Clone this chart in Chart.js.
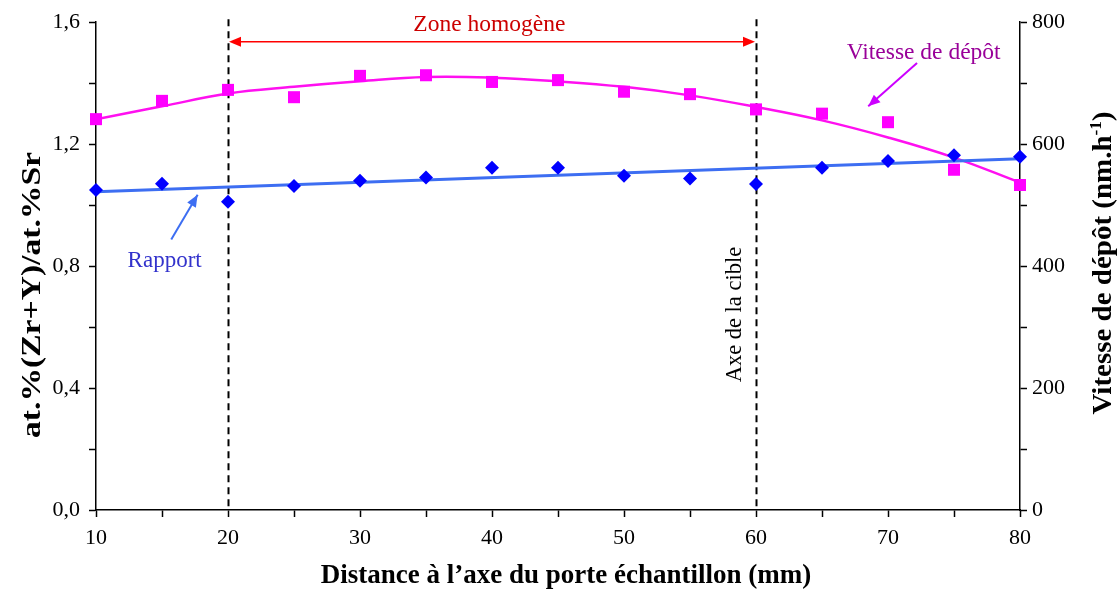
<!DOCTYPE html>
<html>
<head>
<meta charset="utf-8">
<script src="https://cdn.jsdelivr.net/npm/chart.js@4.4.1/dist/chart.umd.min.js"></script>
<style>
  html, body { margin: 0; padding: 0; background: #fff; }
  #wrap { width: 1118px; height: 595px; }
</style>
</head>
<body>
<div id="wrap"><canvas id="depotChart" width="1118" height="595"></canvas></div>
<script>
// distances (mm)
const distances = [10, 15, 20, 25, 30, 35, 40, 45, 50, 55, 60, 65, 70, 75, 80];
// at.%(Zr+Y)/at.%Sr
const rapport = [1.050, 1.070, 1.011, 1.063, 1.080, 1.091, 1.123, 1.123, 1.096, 1.087, 1.069, 1.123, 1.145, 1.164, 1.159];
// vitesse de depot (nm/h)
const vitesse = [641, 671, 689, 677, 712, 713, 702, 705, 686, 682, 657, 650, 636, 558, 533];
// trend lines
const rapportTrendX = [10, 80];
const rapportTrend = [1.044, 1.152];
const vitesseTrend = [641, 662, 683, 694, 703, 710, 709, 703, 694, 680, 661, 639, 611, 578, 537];

const xTicks = [10, 20, 30, 40, 50, 60, 70, 80];
const leftTicks = [0, 0.4, 0.8, 1.2, 1.6];
const rightTicks = [0, 200, 400, 600, 800];

const zoneStart = 20;
const zoneEnd = 60;

const serif = '"Liberation Serif", "DejaVu Serif", serif';

function toPoints(xv, yv) {
    return xv.map((x, i) => ({ x: x, y: yv[i] }));
}

function arrowHead(ctx, x1, y1, x2, y2, len, half) {
    const a = Math.atan2(y2 - y1, x2 - x1);
    ctx.beginPath();
    ctx.moveTo(x2, y2);
    ctx.lineTo(x2 - len * Math.cos(a) + half * Math.sin(a), y2 - len * Math.sin(a) - half * Math.cos(a));
    ctx.lineTo(x2 - len * Math.cos(a) - half * Math.sin(a), y2 - len * Math.sin(a) + half * Math.cos(a));
    ctx.closePath();
    ctx.fill();
}

function arrow(ctx, x1, y1, x2, y2, color, width) {
    ctx.strokeStyle = color;
    ctx.fillStyle = color;
    ctx.lineWidth = width;
    ctx.beginPath();
    ctx.moveTo(x1, y1);
    ctx.lineTo(x2, y2);
    ctx.stroke();
    arrowHead(ctx, x1, y1, x2, y2, 12, 5);
}

// rotated title stretched to the length it has in the picture
function verticalTitle(ctx, parts, cy, baseX, targetLen) {
    ctx.save();
    ctx.translate(baseX, cy);
    ctx.rotate(-Math.PI / 2);
    let total = 0;
    parts.forEach(p => { ctx.font = p.font; p.w = ctx.measureText(p.text).width; total += p.w; });
    ctx.scale(targetLen / total, 1);
    ctx.textAlign = 'left';
    ctx.textBaseline = 'alphabetic';
    let pos = -total / 2;
    parts.forEach(p => {
        ctx.font = p.font;
        ctx.fillText(p.text, pos, p.dy || 0);
        pos += p.w;
    });
    ctx.restore();
}

const annotations = {
    id: 'annotations',
    beforeDatasetsDraw(chart) {
        const { ctx, chartArea, scales } = chart;
        const x = scales.x;
        ctx.save();
        ctx.strokeStyle = '#000';
        ctx.lineWidth = 2;
        ctx.setLineDash([7, 5]);
        [zoneStart, zoneEnd].forEach(v => {
            const px = Math.round(x.getPixelForValue(v)) + 0.5;
            ctx.beginPath();
            ctx.moveTo(px, chartArea.top - 3);
            ctx.lineTo(px, chartArea.bottom);
            ctx.stroke();
        });
        ctx.restore();
    },
    afterDraw(chart) {
        const { ctx, scales } = chart;
        const x = scales.x, yl = scales.y, yr = scales.y2;
        ctx.save();

        // zone homogene
        const ax1 = x.getPixelForValue(zoneStart) + 1;
        const ax2 = x.getPixelForValue(zoneEnd) - 1;
        const ay = yl.getPixelForValue(1.536);
        ctx.strokeStyle = '#ff0000';
        ctx.fillStyle = '#ff0000';
        ctx.lineWidth = 1.5;
        ctx.beginPath();
        ctx.moveTo(ax1 + 6, ay);
        ctx.lineTo(ax2 - 6, ay);
        ctx.stroke();
        arrowHead(ctx, ax2 - 20, ay, ax2, ay, 12, 5);
        arrowHead(ctx, ax1 + 20, ay, ax1, ay, 12, 5);

        ctx.font = '23.5px ' + serif;
        ctx.textAlign = 'center';
        ctx.textBaseline = 'middle';
        ctx.fillStyle = '#cc0000';
        ctx.fillText('Zone homogène', x.getPixelForValue(39.8), yl.getPixelForValue(1.592));

        // vitesse label + arrow
        ctx.fillStyle = '#990099';
        ctx.fillText('Vitesse de dépôt', x.getPixelForValue(72.7), yr.getPixelForValue(750));
        arrow(ctx, x.getPixelForValue(72.2), yr.getPixelForValue(733),
            x.getPixelForValue(68.5), yr.getPixelForValue(662), '#cc00ff', 2);

        // rapport label + arrow
        ctx.font = '23px ' + serif;
        ctx.fillStyle = '#3333cc';
        ctx.fillText('Rapport', x.getPixelForValue(15.2), yl.getPixelForValue(0.818));
        arrow(ctx, x.getPixelForValue(15.7), yl.getPixelForValue(0.887),
            x.getPixelForValue(17.7), yl.getPixelForValue(1.034), '#3d6ef2', 2);

        // axe de la cible
        ctx.save();
        ctx.translate(x.getPixelForValue(58.4), yl.getPixelForValue(0.641));
        ctx.rotate(-Math.PI / 2);
        ctx.fillStyle = '#000';
        ctx.font = '22.5px ' + serif;
        ctx.fillText('Axe de la cible', 0, 0);
        ctx.restore();

        // axis titles
        ctx.fillStyle = '#000';
        ctx.font = 'bold 27px ' + serif;
        ctx.textBaseline = 'alphabetic';
        ctx.fillText('Distance à l\u2019axe du porte échantillon (mm)', 566, 583);

        const big = 'bold 27px ' + serif;
        const small = 'bold 16px ' + serif;
        verticalTitle(ctx, [{ text: 'at.%(Zr+Y)/at.%Sr', font: big }], 295, 40, 286);
        verticalTitle(ctx, [
            { text: 'Vitesse de dépôt (nm.h', font: big },
            { text: '-1', font: small, dy: -10 },
            { text: ')', font: big }
        ], 263, 1111, 303);

        ctx.restore();
    }
};

const tickFont = { family: serif, size: 22 };
const axisGrid = { drawOnChartArea: false, tickLength: 7, tickColor: '#000', tickWidth: 1.5 };
const axisBorder = { color: '#000', width: 1.5 };

const ctx = document.getElementById('depotChart').getContext('2d');
const chart = new Chart(ctx, {
    type: 'scatter',
    data: {
        datasets: [
            {
                label: 'Rapport',
                data: toPoints(distances, rapport),
                yAxisID: 'y',
                pointStyle: 'rectRot',
                pointRadius: 7,
                pointHoverRadius: 7,
                backgroundColor: '#0000ff',
                borderColor: '#0000ff',
                borderWidth: 0,
                clip: false,
                order: 1
            },
            {
                label: 'Tendance rapport',
                data: toPoints(rapportTrendX, rapportTrend),
                yAxisID: 'y',
                showLine: true,
                pointRadius: 0,
                borderColor: '#3d6ef2',
                borderWidth: 3,
                order: 3
            },
            {
                label: 'Vitesse de dépôt',
                data: toPoints(distances, vitesse),
                yAxisID: 'y2',
                pointStyle: 'rect',
                pointRadius: 8.5,
                pointHoverRadius: 8.5,
                backgroundColor: '#ff00ff',
                borderColor: '#ff00ff',
                borderWidth: 0,
                clip: false,
                order: 2
            },
            {
                label: 'Tendance vitesse',
                data: toPoints(distances, vitesseTrend),
                yAxisID: 'y2',
                showLine: true,
                tension: 0.4,
                pointRadius: 0,
                borderColor: '#ff10f0',
                borderWidth: 2.5,
                order: 4
            }
        ]
    },
    options: {
        responsive: false,
        animation: false,
        layout: { padding: { top: 21, left: 0, right: 0, bottom: 0 } },
        plugins: {
            legend: { display: false },
            tooltip: { enabled: false }
        },
        scales: {
            x: {
                type: 'linear',
                min: 10,
                max: 80,
                afterFit: s => { s.height = 85; },
                grid: axisGrid,
                border: axisBorder,
                ticks: {
                    stepSize: 5,
                    padding: 8,
                    color: '#000',
                    font: tickFont,
                    maxRotation: 0,
                    autoSkip: false,
                    callback: v => xTicks.includes(v) ? String(v) : ''
                }
            },
            y: {
                position: 'left',
                min: 0,
                max: 1.6,
                afterFit: s => { s.width = 96; },
                grid: axisGrid,
                border: axisBorder,
                ticks: {
                    stepSize: 0.2,
                    padding: 9,
                    color: '#000',
                    font: tickFont,
                    autoSkip: false,
                    callback: v => leftTicks.some(t => Math.abs(t - v) < 1e-6) ? v.toFixed(1).replace('.', ',') : ''
                }
            },
            y2: {
                position: 'right',
                min: 0,
                max: 800,
                afterFit: s => { s.width = 98; },
                grid: axisGrid,
                border: axisBorder,
                ticks: {
                    stepSize: 100,
                    padding: 5,
                    color: '#000',
                    font: tickFont,
                    autoSkip: false,
                    callback: v => rightTicks.includes(v) ? String(v) : ''
                }
            }
        }
    },
    plugins: [annotations]
});
</script>
</body>
</html>
